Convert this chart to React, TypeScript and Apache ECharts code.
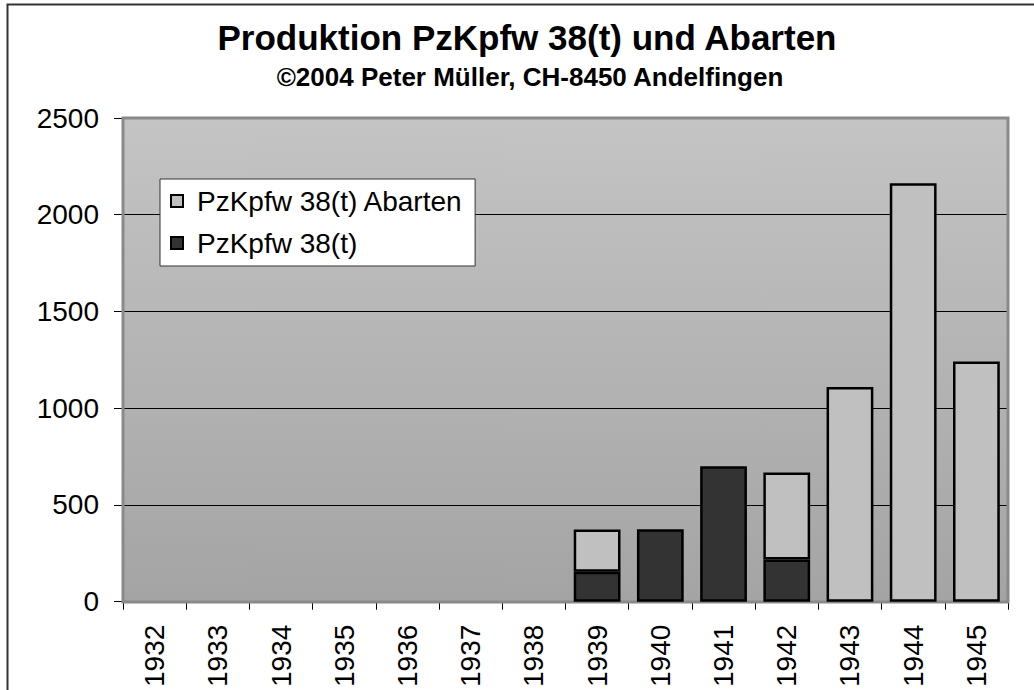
import React, { useEffect, useRef } from "react";
import * as echarts from "echarts";

const years = ["1932", "1933", "1934", "1935", "1936", "1937", "1938", "1939", "1940", "1941", "1942", "1943", "1944", "1945"];
const pzkpfw38t = [0, 0, 0, 0, 0, 0, 0, 155, 375, 700, 218, 0, 0, 0];
const abarten = [0, 0, 0, 0, 0, 0, 0, 218, 0, 0, 450, 1110, 2163, 1242];
const yTicks = { min: 0, max: 2500, interval: 500 };

const FONT = "'Liberation Sans', Arial, sans-serif";

const noZero = (arr: number[]) => arr.map((v) => (v === 0 ? "-" : v));

export default function App() {
  const ref = useRef<HTMLDivElement>(null);
  useEffect(() => {
    if (!ref.current) return;
    const chart = echarts.init(ref.current, undefined, { renderer: "svg" });
    const gridLeft = 123, gridTop = 118, gridRight = 1008, gridBottom = 602;
    chart.setOption({
      animation: false,
      backgroundColor: "#ffffff",
      title: [
        {
          text: "Produktion PzKpfw 38(t) und Abarten",
          left: 522,
          top: 15,
          textAlign: "center",
          textStyle: { fontFamily: FONT, fontWeight: "bold", fontSize: 35, color: "#000" },
        },
        {
          text: "©2004 Peter Müller, CH-8450 Andelfingen",
          left: 525,
          top: 59,
          textAlign: "center",
          textStyle: { fontFamily: FONT, fontWeight: "bold", fontSize: 26, color: "#000" },
        },
      ],
      graphic: [
        {
          type: "rect",
          shape: { x: 7.5, y: 4.5, width: 1200, height: 900 },
          style: { fill: "none", stroke: "#333", lineWidth: 2 },
          silent: true,
          z: 100,
        },
        {
          type: "rect",
          shape: { x: gridLeft, y: gridTop, width: gridRight - gridLeft, height: gridBottom - gridTop },
          style: { fill: "none", stroke: "#8a8a8a", lineWidth: 3 },
          silent: true,
          z: 1,
        },
      ],
      legend: {
        orient: "vertical",
        left: 160,
        top: 179,
        data: ["PzKpfw 38(t) Abarten", "PzKpfw 38(t)"],
        backgroundColor: "#ffffff",
        borderColor: "#333",
        borderWidth: 1,
        borderRadius: 0,
        padding: [8, 12, 9, 10],
        itemWidth: 12,
        itemHeight: 12,
        itemGap: 14,
        icon: "rect",
        itemStyle: { borderColor: "#000", borderWidth: 2 },
        textStyle: { fontFamily: FONT, fontSize: 28, color: "#000", padding: [0, 0, 0, 9] },
      },
      grid: {
        left: gridLeft,
        top: gridTop,
        width: gridRight - gridLeft,
        height: gridBottom - gridTop,
        show: true,
        borderWidth: 0,
        backgroundColor: new echarts.graphic.LinearGradient(0, 0, 0, 1, [
          { offset: 0, color: "#c4c4c4" },
          { offset: 1, color: "#a4a4a4" },
        ]),
      },
      xAxis: {
        type: "category",
        data: years,
        axisLine: { lineStyle: { color: "#000", width: 1 } },
        axisTick: { show: true, length: 8, lineStyle: { color: "#000" } },
        axisLabel: { rotate: 90, margin: 23, fontFamily: FONT, fontSize: 28, color: "#000" },
      },
      yAxis: {
        type: "value",
        min: yTicks.min,
        max: yTicks.max,
        interval: yTicks.interval,
        axisLine: { show: true, lineStyle: { color: "#000", width: 1 } },
        axisTick: { show: true, length: 9, lineStyle: { color: "#000" } },
        axisLabel: {
          margin: 24,
          fontFamily: FONT,
          fontSize: 28,
          color: "#000",
          formatter: (v: number) => String(v),
        },
        splitLine: { show: true, lineStyle: { color: "#000", width: 1 } },
      },
      series: [
        {
          name: "PzKpfw 38(t)",
          type: "bar",
          stack: "total",
          data: noZero(pzkpfw38t),
          barCategoryGap: "26%",
          itemStyle: { color: "#333333", borderColor: "#000", borderWidth: 2.5 },
        },
        {
          name: "PzKpfw 38(t) Abarten",
          type: "bar",
          stack: "total",
          data: noZero(abarten),
          barCategoryGap: "26%",
          itemStyle: { color: "#c0c0c0", borderColor: "#000", borderWidth: 2.5 },
        },
      ],
    });
    return () => chart.dispose();
  }, []);
  return (
    <div
      ref={ref}
      style={{ position: "absolute", left: 0, top: 0, width: 1034, height: 690 }}
    />
  );
}
